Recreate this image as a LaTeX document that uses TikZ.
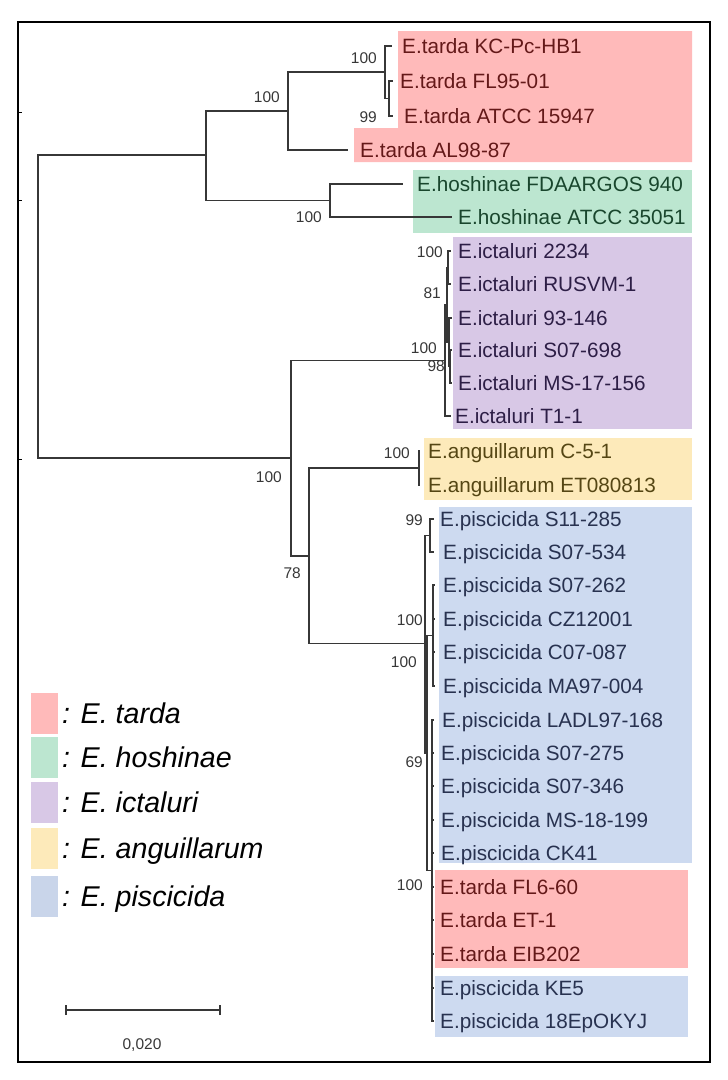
\documentclass[tikz,border=0pt]{standalone}
\usepackage{fontspec}
\setmainfont{Liberation Sans}
\definecolor{treecol}{RGB}{55,55,55}
\definecolor{tardaBG}{RGB}{255,186,186}
\definecolor{hoshBG}{RGB}{188,230,208}
\definecolor{ictBG}{RGB}{216,200,230}
\definecolor{anguBG}{RGB}{253,234,186}
\definecolor{piscBG}{RGB}{205,218,240}
\definecolor{tardaTX}{RGB}{100,25,25}
\definecolor{hoshTX}{RGB}{25,70,45}
\definecolor{ictTX}{RGB}{45,30,70}
\definecolor{anguTX}{RGB}{85,70,20}
\definecolor{piscTX}{RGB}{40,50,80}
\begin{document}
\begin{tikzpicture}[x=1pt,y=-1pt,
  br/.style={line width=1.2pt, draw=treecol},
  leaf/.style={anchor=base west, inner sep=0pt, font=\fontsize{20.7}{24}\selectfont},
  bs/.style={anchor=east, inner sep=0pt, font=\fontsize{15.5}{18}\selectfont, text=treecol},
  lg/.style={anchor=base west, inner sep=0pt, font=\fontsize{28.6}{32}\selectfont\itshape, text=black},
  lgbox/.style={inner sep=0pt, minimum width=27pt, minimum height=41pt},
]
\useasboundingbox (0,0) rectangle (728,1080);
% frame
\draw[line width=2.8pt] (18,22) rectangle (710,1062);
\foreach \ty in {112,200,459} \draw[line width=1pt] (18,\ty) -- (22,\ty);

% clade backgrounds
\fill[tardaBG] (398,31) -- (692,31) -- (692,162) -- (354,162) -- (354,128) -- (398,128) -- cycle;
\fill[hoshBG] (413,170) rectangle (692,233);
\fill[ictBG] (453,237) rectangle (692,429);
\fill[anguBG] (424,438) rectangle (692,500);
\fill[piscBG] (439,507) rectangle (692,863);
\fill[tardaBG] (435,870) rectangle (688,968);
\fill[piscBG] (435,976) rectangle (688,1037);

% internal nodes
\coordinate (root) at (38,307);
\coordinate (N0) at (206,155);
\coordinate (N1) at (288,111);
\coordinate (N2) at (385,72);
\coordinate (N3) at (389,98.5);
\coordinate (N4) at (330,200.5);
\coordinate (L0) at (291,458);
\coordinate (I0) at (445,360.5);
\coordinate (I1) at (447,305);
\coordinate (I2) at (448,267.5);
\coordinate (I3) at (449,342);
\coordinate (I4) at (450,366.5);
\coordinate (L1) at (309,556);
\coordinate (A) at (419,468);
\coordinate (P0) at (425,643.5);
\coordinate (P1) at (430,535.5);
\coordinate (P2) at (427,753);
\coordinate (P3) at (433,635.5);
\coordinate (P5) at (432,870.5);

% leaf tips
\coordinate (t0) at (392,46);
\coordinate (t1) at (393,81);
\coordinate (t2) at (393,116);
\coordinate (t3) at (348,150);
\coordinate (t4) at (403,184);
\coordinate (t5) at (452,217);
\coordinate (t6) at (451,251);
\coordinate (t7) at (451,284);
\coordinate (t8) at (452,318);
\coordinate (t9) at (452,350);
\coordinate (t10) at (452,383);
\coordinate (t11) at (451,416);
\coordinate (t12) at (420,451);
\coordinate (t13) at (420,485);
\coordinate (t14) at (434,519);
\coordinate (t15) at (434,552);
\coordinate (t16) at (435,585);
\coordinate (t17) at (435,619);
\coordinate (t18) at (435,652);
\coordinate (t19) at (435,686);
\coordinate (t20) at (434,720);
\coordinate (t21) at (434,753);
\coordinate (t22) at (434,786);
\coordinate (t23) at (434,820);
\coordinate (t24) at (434,853);
\coordinate (t25) at (434,887);
\coordinate (t26) at (434,920);
\coordinate (t27) at (434,954);
\coordinate (t28) at (434,988);
\coordinate (t29) at (434,1021);

% branches
\draw[br] (root) |- (N0);
\draw[br] (root) |- (L0);
\draw[br] (N0) |- (N1);
\draw[br] (N0) |- (N4);
\draw[br] (N1) |- (N2);
\draw[br] (N1) |- (t3);
\draw[br] (N2) |- (t0);
\draw[br] (N2) |- (N3);
\draw[br] (N3) |- (t1);
\draw[br] (N3) |- (t2);
\draw[br] (N4) |- (t4);
\draw[br] (N4) |- (t5);
\draw[br] (L0) |- (I0);
\draw[br] (L0) |- (L1);
\draw[br] (I0) |- (I1);
\draw[br] (I0) |- (t11);
\draw[br] (I1) |- (I2);
\draw[br] (I1) |- (I3);
\draw[br] (I2) |- (t6);
\draw[br] (I2) |- (t7);
\draw[br] (I3) |- (t8);
\draw[br] (I3) |- (I4);
\draw[br] (I4) |- (t9);
\draw[br] (I4) |- (t10);
\draw[br] (L1) |- (A);
\draw[br] (L1) |- (P0);
\draw[br] (A) |- (t12);
\draw[br] (A) |- (t13);
\draw[br] (P0) |- (P1);
\draw[br] (P0) |- (P2);
\draw[br] (P1) |- (t14);
\draw[br] (P1) |- (t15);
\draw[br] (P2) |- (P3);
\draw[br] (P2) |- (P5);
\foreach \k in {16,17,18,19} \draw[br] (P3) |- (t\k);
\foreach \k in {20,...,29} \draw[br] (P5) |- (t\k);

% bootstrap values
\node[bs] (bN2) at (377,58) {100};
\node[bs] (bN3) at (377,117) {99};
\node[bs] (bN1) at (280,97) {100};
\node[bs] (bN4) at (322,217) {100};
\node[bs] (bL0) at (282,477) {100};
\node[bs] (bL1) at (301,573) {78};
\node[bs] (bA) at (410,453) {100};
\node[bs] (bI2) at (443,252) {100};
\node[bs] (bI1) at (441,293) {81};
\node[bs] (bI3) at (437,348) {100};
\node[bs] (bI4) at (445,366) {98};
\node[bs] (bP1) at (423,520) {99};
\node[bs] (bP3) at (423,620) {100};
\node[bs] (bP0) at (417,662) {100};
\node[bs] (bP2) at (423,762) {69};
\node[bs] (bP5) at (423,885) {100};

% leaf labels
\node[leaf, text=tardaTX] (l0) at (402,53.4) {E.tarda KC-Pc-HB1};
\node[leaf, text=tardaTX] (l1) at (400,88.4) {E.tarda FL95-01};
\node[leaf, text=tardaTX] (l2) at (404,123.4) {E.tarda ATCC 15947};
\node[leaf, text=tardaTX] (l3) at (360,157.4) {E.tarda AL98-87};
\node[leaf, text=hoshTX] (l4) at (417,191.4) {E.hoshinae FDAARGOS 940};
\node[leaf, text=hoshTX] (l5) at (458,224.4) {E.hoshinae ATCC 35051};
\node[leaf, text=ictTX] (l6) at (458,258.4) {E.ictaluri 2234};
\node[leaf, text=ictTX] (l7) at (458,291.4) {E.ictaluri RUSVM-1};
\node[leaf, text=ictTX] (l8) at (458,325.4) {E.ictaluri 93-146};
\node[leaf, text=ictTX] (l9) at (458,357.4) {E.ictaluri S07-698};
\node[leaf, text=ictTX] (l10) at (458,390.4) {E.ictaluri MS-17-156};
\node[leaf, text=ictTX] (l11) at (455,423.4) {E.ictaluri T1-1};
\node[leaf, text=anguTX] (l12) at (428,458.4) {E.anguillarum C-5-1};
\node[leaf, text=anguTX] (l13) at (428,492.4) {E.anguillarum ET080813};
\node[leaf, text=piscTX] (l14) at (440,526.4) {E.piscicida S11-285};
\node[leaf, text=piscTX] (l15) at (443,559.4) {E.piscicida S07-534};
\node[leaf, text=piscTX] (l16) at (443,592.4) {E.piscicida S07-262};
\node[leaf, text=piscTX] (l17) at (443,626.4) {E.piscicida CZ12001};
\node[leaf, text=piscTX] (l18) at (443,659.4) {E.piscicida C07-087};
\node[leaf, text=piscTX] (l19) at (443,693.4) {E.piscicida MA97-004};
\node[leaf, text=piscTX] (l20) at (442,727.4) {E.piscicida LADL97-168};
\node[leaf, text=piscTX] (l21) at (441,760.4) {E.piscicida S07-275};
\node[leaf, text=piscTX] (l22) at (441,793.4) {E.piscicida S07-346};
\node[leaf, text=piscTX] (l23) at (441,827.4) {E.piscicida MS-18-199};
\node[leaf, text=piscTX] (l24) at (441,860.4) {E.piscicida CK41};
\node[leaf, text=tardaTX] (l25) at (440,894.4) {E.tarda FL6-60};
\node[leaf, text=tardaTX] (l26) at (440,927.4) {E.tarda ET-1};
\node[leaf, text=tardaTX] (l27) at (440,961.4) {E.tarda EIB202};
\node[leaf, text=piscTX] (l28) at (440,995.4) {E.piscicida KE5};
\node[leaf, text=piscTX] (l29) at (440,1028.4) {E.piscicida 18EpOKYJ};

% legend
\node[lgbox, fill=tardaBG] (k1) at (44.5,713.5) {};
\node[lgbox, fill=hoshBG] (k2) at (44.5,757.5) {};
\node[lgbox, fill=ictBG] (k3) at (44.5,802.5) {};
\node[lgbox, fill=anguBG] (k4) at (44.5,848) {};
\node[lgbox, fill=piscBG!95!gray] (k5) at (44.5,896) {};
\node[lg] (g1) at (62,723.5) {: E. tarda};
\node[lg] (g2) at (62,767.5) {: E. hoshinae};
\node[lg] (g3) at (62,812.5) {: E. ictaluri};
\node[lg] (g4) at (62,858) {: E. anguillarum};
\node[lg] (g5) at (62,906) {: E. piscicida};

% scale bar
\coordinate (s1) at (66,1010);
\coordinate (s2) at (220,1010);
\draw[br] (s1) -- (s2);
\draw[br] ([yshift=-5pt]s1) -- ([yshift=5pt]s1);
\draw[br] ([yshift=-5pt]s2) -- ([yshift=5pt]s2);
\node[inner sep=0pt, font=\fontsize{15.5}{18}\selectfont, text=treecol] (sc) at (142,1045) {0,020};
\end{tikzpicture}
\end{document}
